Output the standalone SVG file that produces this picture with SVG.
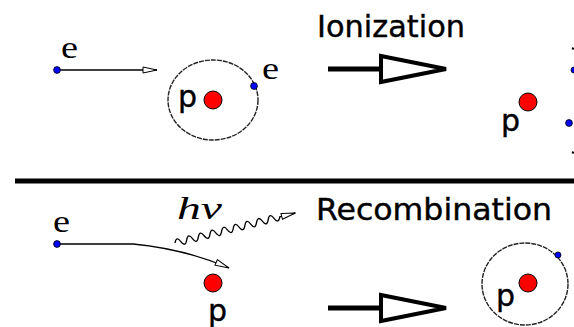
<svg xmlns="http://www.w3.org/2000/svg" width="574" height="327" viewBox="0 0 574 327">
<defs>
<style>
.sans{font-family:"DejaVu Sans","Liberation Sans",sans-serif;font-size:30px;fill:#000;stroke:#000;stroke-width:0.4}
.e{font-family:"Liberation Serif","DejaVu Serif",serif;font-size:31px;fill:#000}
.hv{font-family:"Liberation Serif","DejaVu Serif",serif;font-style:italic;font-size:31px;fill:#000}
.orbit{fill:none;stroke:#222;stroke-width:1.4;stroke-dasharray:5 1}
.proton{fill:#ff0000;stroke:#000;stroke-width:1}
.electron{fill:#0000ff;stroke:#000;stroke-width:0.8}
.thin{fill:none;stroke:#000;stroke-width:1.3}
.thick{fill:none;stroke:#000;stroke-width:5}
.head{fill:#fff;stroke:#000;stroke-width:4;stroke-linejoin:miter}
</style>
<marker id="open" markerUnits="userSpaceOnUse" viewBox="0 0 16 8" markerWidth="16" markerHeight="8" refX="15" refY="4" orient="auto">
<path d="M1,1 L15,4 L1,7 Z" fill="#fff" stroke="#000" stroke-width="1"/>
</marker>
</defs>
<rect width="574" height="327" fill="#fff"/>

<g id="connectors">
<path class="thin" d="M57,70 L157,70" marker-end="url(#open)"/>
<path class="thin" d="M57,244 L133,244 Q185,249 229,268" marker-end="url(#open)"/>
<path class="thin" transform="translate(175,243) rotate(-14)" d="M0,0 q3,-7 6,0 t6,0 t6,0 t6,0 t6,0 t6,0 t6,0 t6,0 t6,0 t6,0 t6,0 t6,0 t6,0 t6,0 t6,0 t6,0 t6,0 t6,0 l16,0" marker-end="url(#open)"/>
<g id="ionization-arrow">
<line class="thick" x1="328" y1="69" x2="381" y2="69"/>
<polygon class="head" points="381,56 446,69 381,82"/>
</g>
<g id="recombination-arrow">
<line class="thick" x1="328" y1="308" x2="381" y2="308"/>
<polygon class="head" points="381,295 446,308 381,321"/>
</g>
</g>

<g id="incoming-electron">
<circle class="electron" cx="57" cy="70" r="3.4"/>
<text class="e" x="61" y="58" textLength="17" lengthAdjust="spacingAndGlyphs">e</text>
</g>

<g id="hydrogen-atom">
<ellipse class="orbit" cx="213" cy="100" rx="45" ry="40"/>
<circle class="proton" cx="213" cy="100" r="9"/>
<text class="sans" x="178" y="107">p</text>
<circle class="electron" cx="254" cy="86" r="3.4"/>
<text class="e" x="262" y="79" textLength="17" lengthAdjust="spacingAndGlyphs">e</text>
</g>

<g id="ionization-label">
<text class="sans" x="317" y="37" textLength="148" lengthAdjust="spacingAndGlyphs">Ionization</text>
</g>

<g id="ionized-products">
<circle class="proton" cx="528" cy="102" r="9"/>
<text class="sans" x="501" y="131">p</text>
<circle class="electron" cx="574" cy="70" r="3"/>
<circle class="electron" cx="569" cy="123" r="3.4"/>
<path d="M572,48 l2,1 M572,152 l2,1" stroke="#000" stroke-width="2" fill="none"/>
</g>

<g id="separator">
<line x1="15" y1="181" x2="574" y2="181" stroke="#000" stroke-width="5"/>
</g>

<g id="free-electron">
<circle class="electron" cx="57" cy="244" r="3.4"/>
<text class="e" x="53" y="232" textLength="17" lengthAdjust="spacingAndGlyphs">e</text>
</g>

<g id="photon-label">
<text class="hv" x="177" y="219" textLength="45" lengthAdjust="spacingAndGlyphs">hν</text>
</g>

<g id="free-proton">
<circle class="proton" cx="213" cy="283" r="9"/>
<text class="sans" x="208" y="321">p</text>
</g>

<g id="recombination-label">
<text class="sans" x="316" y="220" textLength="236" lengthAdjust="spacingAndGlyphs">Recombination</text>
</g>

<g id="recombined-atom">
<ellipse class="orbit" cx="525" cy="284" rx="43" ry="41"/>
<circle class="proton" cx="528" cy="283" r="9"/>
<text class="sans" x="496" y="306">p</text>
<circle class="electron" cx="558" cy="255" r="3"/>
</g>
</svg>
